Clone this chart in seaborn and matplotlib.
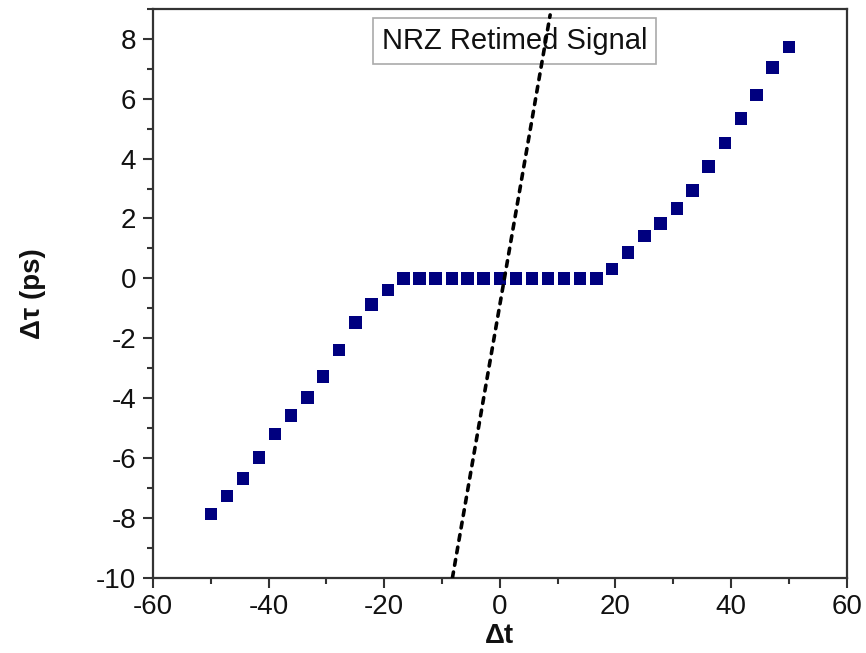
import matplotlib
matplotlib.use("Agg")
import matplotlib.pyplot as plt
import seaborn as sns
import numpy as np
import pandas as pd
from matplotlib.ticker import MultipleLocator

# Data
delta_t = [-50.0, -47.2, -44.4, -41.7, -38.9, -36.1, -33.3, -30.6, -27.8, -25.0,
           -22.2, -19.4, -16.7, -13.9, -11.1, -8.3, -5.6, -2.8, 0.0, 2.8,
           5.6, 8.3, 11.1, 13.9, 16.7, 19.4, 22.2, 25.0, 27.8, 30.6,
           33.3, 36.1, 38.9, 41.7, 44.4, 47.2, 50.0]
delta_tau = [-7.88, -7.27, -6.68, -5.99, -5.19, -4.58, -3.98, -3.28, -2.39, -1.48,
             -0.88, -0.39, 0.0, 0.0, 0.0, 0.0, 0.0, 0.0, 0.0, 0.0,
             0.0, 0.0, 0.0, 0.0, 0.0, 0.32, 0.87, 1.42, 1.83, 2.33,
             2.93, 3.73, 4.53, 5.34, 6.12, 7.04, 7.72]
line_x = [-8.2, 8.7]
line_y = [-10.0, 8.8]
legend_label = "NRZ Retimed Signal"

sns.set_theme(style="white")
plt.rcParams['font.family'] = ['Liberation Sans', 'DejaVu Sans']
plt.rcParams['axes.unicode_minus'] = False

fig = plt.figure(figsize=(8.66, 6.53), dpi=100)
ax = fig.add_axes([0.1767, 0.1153, 0.801, 0.871])

df = pd.DataFrame({"t": delta_t, "tau": delta_tau})
sns.scatterplot(data=df, x="t", y="tau", marker="s", s=80, color="#00007f",
                edgecolor="none", ax=ax, zorder=3)
sns.lineplot(x=line_x, y=line_y, ax=ax, color="black", lw=2.6,
             linestyle=(0, (1.6, 1.9)), dash_capstyle="round", zorder=4)

ax.set_xlim(-60, 60)
ax.set_ylim(-10, 9.0)
ax.xaxis.set_major_locator(MultipleLocator(20))
ax.xaxis.set_minor_locator(MultipleLocator(10))
ax.yaxis.set_major_locator(MultipleLocator(2))
ax.yaxis.set_minor_locator(MultipleLocator(1))
ax.tick_params(which="major", direction="out", length=7, width=1.5, color="#333333",
               labelsize=20, labelcolor="#111111", left=True, bottom=True, pad=5)
ax.tick_params(which="minor", direction="out", length=4, width=1.5, color="#333333",
               left=True, bottom=True)
for sp in ax.spines.values():
    sp.set_color("#333333")
    sp.set_linewidth(1.6)

ax.set_xlabel("Δt", fontsize=20, fontweight="bold", labelpad=2, color="#111111")
ax.set_ylabel("Δτ (ps)", fontsize=20, fontweight="bold", labelpad=36, color="#111111")

ax.text(0.521, 0.944, legend_label, transform=ax.transAxes, ha="center", va="center",
        fontsize=21, color="#111111", zorder=2,
        bbox=dict(boxstyle="square,pad=0.3", facecolor="white", edgecolor="#aaaaaa", lw=1.2))

fig.savefig("out.png", dpi=100)
